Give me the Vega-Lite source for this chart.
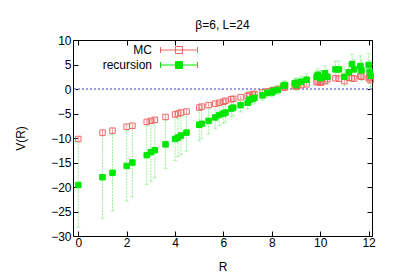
{
  "$schema": "https://vega.github.io/schema/vega-lite/v6.json",
  "width": 299,
  "height": 196,
  "autosize": "none",
  "padding": {"left": 73, "top": 40, "right": 27, "bottom": 43},
  "title": {"text": "β=6, L=24", "fontSize": 12, "font": "Liberation Sans", "fontWeight": "normal", "color": "#000000", "anchor": "middle", "frame": "group", "offset": -7, "baseline": "alphabetic"},
  "config": {
    "font": "Liberation Sans",
    "view": {"stroke": "#000000", "strokeWidth": 1},
    "axis": {"grid": false, "domain": false, "ticks": true, "tickColor": "#000000", "tickSize": -5, "labelFontSize": 12, "labelColor": "#000000", "labelFont": "Liberation Sans", "titleFont": "Liberation Sans", "titleFontSize": 12, "titleFontWeight": "normal", "titleColor": "#000000"}
  },
  "data": {"values": [
    {"R":0,"V":-10.2,"lo":-10.7,"hi":-9.7,"s":"MC"},
    {"R":1,"V":-8.9,"lo":-9.4,"hi":-8.4,"s":"MC"},
    {"R":1.414,"V":-8.5,"lo":-9.0,"hi":-8.0,"s":"MC"},
    {"R":2,"V":-7.7,"lo":-8.2,"hi":-7.2,"s":"MC"},
    {"R":2.236,"V":-7.5,"lo":-8.0,"hi":-7.0,"s":"MC"},
    {"R":2.828,"V":-6.7,"lo":-7.2,"hi":-6.2,"s":"MC"},
    {"R":3,"V":-6.5,"lo":-7.0,"hi":-6.0,"s":"MC"},
    {"R":3.162,"V":-6.3,"lo":-6.8,"hi":-5.8,"s":"MC"},
    {"R":3.606,"V":-5.7,"lo":-6.15,"hi":-5.25,"s":"MC"},
    {"R":4,"V":-5.2,"lo":-5.6,"hi":-4.8,"s":"MC"},
    {"R":4.123,"V":-5.0,"lo":-5.4,"hi":-4.6,"s":"MC"},
    {"R":4.243,"V":-4.8,"lo":-5.2,"hi":-4.4,"s":"MC"},
    {"R":4.472,"V":-4.6,"lo":-5.0,"hi":-4.2,"s":"MC"},
    {"R":5,"V":-3.8,"lo":-4.2,"hi":-3.4,"s":"MC"},
    {"R":5.099,"V":-3.6,"lo":-4.0,"hi":-3.2,"s":"MC"},
    {"R":5.385,"V":-3.3,"lo":-3.7,"hi":-2.9,"s":"MC"},
    {"R":5.657,"V":-3.0,"lo":-3.35,"hi":-2.65,"s":"MC"},
    {"R":5.831,"V":-2.8,"lo":-3.15,"hi":-2.45,"s":"MC"},
    {"R":6,"V":-2.6,"lo":-2.95,"hi":-2.25,"s":"MC"},
    {"R":6.083,"V":-2.4,"lo":-2.75,"hi":-2.05,"s":"MC"},
    {"R":6.325,"V":-2.1,"lo":-2.4,"hi":-1.8,"s":"MC"},
    {"R":6.403,"V":-2.0,"lo":-2.3,"hi":-1.7,"s":"MC"},
    {"R":6.708,"V":-1.7,"lo":-2.0,"hi":-1.4,"s":"MC"},
    {"R":7,"V":-1.4,"lo":-1.7,"hi":-1.1,"s":"MC"},
    {"R":7.071,"V":-1.2,"lo":-1.5,"hi":-0.9,"s":"MC"},
    {"R":7.211,"V":-1.1,"lo":-1.4,"hi":-0.8,"s":"MC"},
    {"R":7.28,"V":-1.0,"lo":-1.3,"hi":-0.7,"s":"MC"},
    {"R":7.616,"V":-0.7,"lo":-1.0,"hi":-0.4,"s":"MC"},
    {"R":7.81,"V":-0.5,"lo":-0.8,"hi":-0.2,"s":"MC"},
    {"R":8,"V":-0.35,"lo":-0.65,"hi":-0.05,"s":"MC"},
    {"R":8.062,"V":-0.25,"lo":-0.55,"hi":0.05,"s":"MC"},
    {"R":8.246,"V":0.0,"lo":-0.3,"hi":0.3,"s":"MC"},
    {"R":8.485,"V":0.3,"lo":0.0,"hi":0.6,"s":"MC"},
    {"R":8.544,"V":0.35,"lo":0.05,"hi":0.65,"s":"MC"},
    {"R":8.944,"V":0.6,"lo":0.3,"hi":0.9,"s":"MC"},
    {"R":9,"V":0.5,"lo":0.2,"hi":0.8,"s":"MC"},
    {"R":9.055,"V":0.6,"lo":0.3,"hi":0.9,"s":"MC"},
    {"R":9.22,"V":0.8,"lo":0.5,"hi":1.1,"s":"MC"},
    {"R":9.434,"V":0.95,"lo":0.6,"hi":1.3,"s":"MC"},
    {"R":9.849,"V":1.4,"lo":1.05,"hi":1.75,"s":"MC"},
    {"R":9.899,"V":1.5,"lo":1.15,"hi":1.85,"s":"MC"},
    {"R":10,"V":1.3,"lo":0.95,"hi":1.65,"s":"MC"},
    {"R":10.05,"V":1.35,"lo":1.0,"hi":1.7,"s":"MC"},
    {"R":10.198,"V":1.6,"lo":1.25,"hi":1.95,"s":"MC"},
    {"R":10.296,"V":2.0,"lo":1.65,"hi":2.35,"s":"MC"},
    {"R":10.63,"V":2.2,"lo":1.8,"hi":2.6,"s":"MC"},
    {"R":10.77,"V":2.1,"lo":1.7,"hi":2.5,"s":"MC"},
    {"R":11,"V":1.6,"lo":1.2,"hi":2.0,"s":"MC"},
    {"R":11.18,"V":2.3,"lo":1.9,"hi":2.7,"s":"MC"},
    {"R":11.314,"V":2.2,"lo":1.8,"hi":2.6,"s":"MC"},
    {"R":11.402,"V":2.1,"lo":1.7,"hi":2.5,"s":"MC"},
    {"R":11.662,"V":2.65,"lo":2.25,"hi":3.05,"s":"MC"},
    {"R":11.705,"V":2.5,"lo":2.1,"hi":2.9,"s":"MC"},
    {"R":12,"V":2.2,"lo":1.8,"hi":2.6,"s":"MC"},
    {"R":12.042,"V":2.4,"lo":2.0,"hi":2.8,"s":"MC"},
    {"R":12.083,"V":1.8,"lo":1.4,"hi":2.2,"s":"MC"},
    {"R":0,"V":-19.6,"lo":-28.2,"hi":-11.0,"s":"recursion"},
    {"R":1,"V":-18.0,"lo":-26.4,"hi":-9.6,"s":"recursion"},
    {"R":1.414,"V":-17.1,"lo":-24.9,"hi":-9.3,"s":"recursion"},
    {"R":2,"V":-15.7,"lo":-22.9,"hi":-8.5,"s":"recursion"},
    {"R":2.236,"V":-15.0,"lo":-22.0,"hi":-8.0,"s":"recursion"},
    {"R":2.828,"V":-13.5,"lo":-19.5,"hi":-7.5,"s":"recursion"},
    {"R":3,"V":-12.9,"lo":-18.8,"hi":-7.0,"s":"recursion"},
    {"R":3.162,"V":-12.5,"lo":-18.1,"hi":-6.9,"s":"recursion"},
    {"R":3.606,"V":-11.3,"lo":-16.2,"hi":-6.4,"s":"recursion"},
    {"R":4,"V":-10.2,"lo":-14.6,"hi":-5.8,"s":"recursion"},
    {"R":4.123,"V":-9.9,"lo":-13.8,"hi":-6.0,"s":"recursion"},
    {"R":4.243,"V":-9.5,"lo":-13.4,"hi":-5.6,"s":"recursion"},
    {"R":4.472,"V":-8.9,"lo":-12.7,"hi":-5.1,"s":"recursion"},
    {"R":5,"V":-7.3,"lo":-10.6,"hi":-4.0,"s":"recursion"},
    {"R":5.099,"V":-7.1,"lo":-10.1,"hi":-4.1,"s":"recursion"},
    {"R":5.385,"V":-6.5,"lo":-9.2,"hi":-3.8,"s":"recursion"},
    {"R":5.657,"V":-5.8,"lo":-8.1,"hi":-3.5,"s":"recursion"},
    {"R":5.831,"V":-5.3,"lo":-7.5,"hi":-3.1,"s":"recursion"},
    {"R":6,"V":-5.0,"lo":-7.0,"hi":-3.0,"s":"recursion"},
    {"R":6.083,"V":-4.8,"lo":-6.7,"hi":-2.9,"s":"recursion"},
    {"R":6.325,"V":-4.0,"lo":-5.7,"hi":-2.3,"s":"recursion"},
    {"R":6.403,"V":-3.8,"lo":-5.4,"hi":-2.2,"s":"recursion"},
    {"R":6.708,"V":-3.3,"lo":-4.7,"hi":-1.9,"s":"recursion"},
    {"R":7,"V":-2.8,"lo":-4.1,"hi":-1.5,"s":"recursion"},
    {"R":7.071,"V":-2.2,"lo":-3.4,"hi":-1.0,"s":"recursion"},
    {"R":7.211,"V":-2.0,"lo":-3.1,"hi":-0.9,"s":"recursion"},
    {"R":7.28,"V":-1.8,"lo":-2.9,"hi":-0.7,"s":"recursion"},
    {"R":7.616,"V":-1.3,"lo":-2.3,"hi":-0.3,"s":"recursion"},
    {"R":7.81,"V":-0.8,"lo":-1.7,"hi":0.1,"s":"recursion"},
    {"R":8,"V":-0.7,"lo":-1.6,"hi":0.2,"s":"recursion"},
    {"R":8.062,"V":-0.4,"lo":-1.3,"hi":0.5,"s":"recursion"},
    {"R":8.246,"V":-0.2,"lo":-1.1,"hi":0.7,"s":"recursion"},
    {"R":8.485,"V":0.7,"lo":-0.2,"hi":1.6,"s":"recursion"},
    {"R":8.544,"V":0.8,"lo":-0.1,"hi":1.7,"s":"recursion"},
    {"R":8.944,"V":1.2,"lo":0.2,"hi":2.2,"s":"recursion"},
    {"R":9,"V":0.8,"lo":-0.2,"hi":1.8,"s":"recursion"},
    {"R":9.055,"V":1.3,"lo":0.3,"hi":2.3,"s":"recursion"},
    {"R":9.22,"V":1.5,"lo":0.4,"hi":2.6,"s":"recursion"},
    {"R":9.434,"V":1.9,"lo":0.7,"hi":3.1,"s":"recursion"},
    {"R":9.849,"V":2.5,"lo":1.2,"hi":3.8,"s":"recursion"},
    {"R":9.899,"V":2.9,"lo":1.6,"hi":4.2,"s":"recursion"},
    {"R":10,"V":2.2,"lo":0.8,"hi":3.6,"s":"recursion"},
    {"R":10.05,"V":2.4,"lo":1.0,"hi":3.8,"s":"recursion"},
    {"R":10.198,"V":3.2,"lo":1.7,"hi":4.7,"s":"recursion"},
    {"R":10.296,"V":2.5,"lo":1.0,"hi":4.0,"s":"recursion"},
    {"R":10.63,"V":4.0,"lo":2.3,"hi":5.7,"s":"recursion"},
    {"R":10.77,"V":4.0,"lo":2.3,"hi":5.7,"s":"recursion"},
    {"R":11,"V":2.5,"lo":0.7,"hi":4.3,"s":"recursion"},
    {"R":11.18,"V":3.4,"lo":1.6,"hi":5.2,"s":"recursion"},
    {"R":11.314,"V":5.1,"lo":3.1,"hi":7.1,"s":"recursion"},
    {"R":11.402,"V":4.0,"lo":2.0,"hi":6.0,"s":"recursion"},
    {"R":11.662,"V":4.7,"lo":2.6,"hi":6.8,"s":"recursion"},
    {"R":11.705,"V":3.8,"lo":1.7,"hi":5.9,"s":"recursion"},
    {"R":12,"V":4.9,"lo":2.6,"hi":7.2,"s":"recursion"},
    {"R":12.042,"V":3.5,"lo":1.2,"hi":5.8,"s":"recursion"},
    {"R":12.083,"V":2.7,"lo":0.4,"hi":5.0,"s":"recursion"}
  ]},
  "resolve": {"axis": {"x": "independent", "y": "independent"}},
  "layer": [
    {
      "mark": {"type": "rule", "color": "#9a9af0", "strokeDash": [2, 2], "strokeWidth": 1},
      "encoding": {"y": {"datum": 0, "type": "quantitative", "scale": {"domain": [-30, 10], "nice": false, "zero": false}, "axis": null}}
    },
    {
      "transform": [{"filter": "datum.s === 'recursion'"}],
      "mark": {"type": "rule", "color": "#9ef09e", "strokeDash": [2, 1], "strokeWidth": 1},
      "encoding": {
        "x": {"field": "R", "type": "quantitative", "axis": null},
        "y": {"field": "lo", "type": "quantitative", "axis": null},
        "y2": {"field": "hi"}
      }
    },
    {
      "transform": [{"filter": "datum.s === 'recursion'"}],
      "mark": {"type": "tick", "orient": "horizontal", "color": "#9ef09e", "size": 4, "thickness": 1},
      "encoding": {
        "x": {"field": "R", "type": "quantitative", "axis": null},
        "y": {"field": "lo", "type": "quantitative", "axis": null}
      }
    },
    {
      "transform": [{"filter": "datum.s === 'recursion'"}],
      "mark": {"type": "tick", "orient": "horizontal", "color": "#9ef09e", "size": 4, "thickness": 1},
      "encoding": {
        "x": {"field": "R", "type": "quantitative", "axis": null},
        "y": {"field": "hi", "type": "quantitative", "axis": null}
      }
    },
    {
      "transform": [{"filter": "datum.s === 'MC'"}],
      "mark": {"type": "rule", "color": "#f4a0a0", "strokeWidth": 1},
      "encoding": {
        "x": {"field": "R", "type": "quantitative", "axis": null},
        "y": {"field": "lo", "type": "quantitative", "axis": null},
        "y2": {"field": "hi"}
      }
    },
    {
      "mark": {"type": "point", "shape": "square", "size": 30, "strokeWidth": 1, "opacity": 1},
      "encoding": {
        "x": {"field": "R", "type": "quantitative", "title": "R", "scale": {"domain": [-0.22, 12.14], "nice": false, "zero": false}, "axis": {"values": [0, 2, 4, 6, 8, 10, 12], "labelPadding": 6, "titlePadding": 13}},
        "y": {"field": "V", "type": "quantitative", "title": "V(R)", "scale": {"domain": [-30, 10], "nice": false, "zero": false}, "axis": {"values": [-30, -25, -20, -15, -10, -5, 0, 5, 10], "labelPadding": 7, "titlePadding": 23}},
        "stroke": {"field": "s", "type": "nominal", "scale": {"domain": ["MC", "recursion"], "range": ["#f06464", "#00e600"]},
          "legend": {"orient": "none", "legendX": 100, "legendY": 4, "title": null, "padding": 0, "symbolType": "M-3.7,0H3.7M-3.7,-0.6V0.6M3.7,-0.6V0.6M-0.7,-0.7H0.7V0.7H-0.7Z", "symbolSize": 100, "symbolStrokeWidth": 1, "labelAlign": "right", "labelOffset": -33, "labelFontSize": 12, "labelFont": "Liberation Sans", "labelColor": "#000000", "rowPadding": 3}},
        "fill": {"field": "s", "type": "nominal", "scale": {"domain": ["MC", "recursion"], "range": ["rgba(0,0,0,0)", "#00e600"]}}
      }
    },
    {
      "mark": {"type": "point", "opacity": 0},
      "encoding": {
        "x": {"field": "R", "type": "quantitative", "axis": {"orient": "top", "values": [0, 2, 4, 6, 8, 10, 12], "labels": false, "title": null}},
        "y": {"field": "V", "type": "quantitative", "axis": {"orient": "right", "values": [-30, -25, -20, -15, -10, -5, 0, 5, 10], "labels": false, "title": null}}
      }
    }
  ]
}
